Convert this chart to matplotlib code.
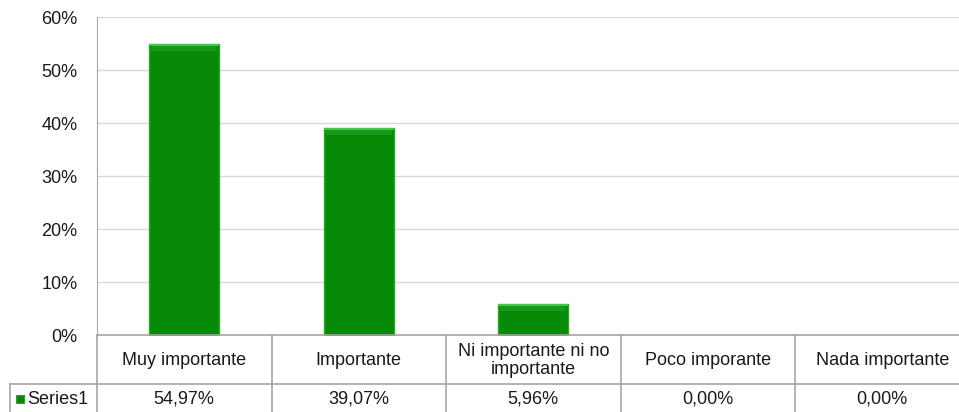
import numpy as np
import matplotlib
matplotlib.use("Agg")
import matplotlib.pyplot as plt

# chart data
categories = ["Muy importante", "Importante", "Ni importante ni no\nimportante",
              "Poco imporante", "Nada importante"]
values = [54.97, 39.07, 5.96, 0.00, 0.00]
series_name = "Series1"
yticks = [0, 10, 20, 30, 40, 50, 60]

W, H = 959, 412
plt.rcParams['font.family'] = ['Liberation Sans', 'DejaVu Sans']
txt_col = '#1a1a1a'
fs = 13

fig = plt.figure(figsize=(W / 100, H / 100), dpi=100)
fig.patch.set_facecolor('white')

# plot area in pixels (the reference is cropped on the right)
left, right = 97, 969.5
bottom, top = 335.5, 17.3
ax = fig.add_axes([left / W, (H - bottom) / H, (right - left) / W, (bottom - top) / H])

x = np.arange(len(values))
vals = np.array(values)
shown = vals > 0
ax.bar(x[shown], vals[shown], width=0.4, color='#078a07', edgecolor='#2aa82a',
       linewidth=1.0, zorder=3)
# bevel on top of each bar
bevel = np.minimum(vals[shown], 1.3)
ax.bar(x[shown], bevel, width=0.38, bottom=vals[shown] - bevel, color='#16991a',
       linewidth=0, zorder=4)
ax.bar(x[shown], 0.35, width=0.4, bottom=vals[shown] - 0.35, color='#48c248',
       linewidth=0, zorder=4)

ax.set_xlim(-0.5, len(values) - 0.5)
ax.set_ylim(0, 60)
ax.set_yticks(yticks)
ax.set_yticklabels(["%d%%" % t for t in yticks], fontsize=fs, color=txt_col)
ax.tick_params(axis='y', length=0, pad=14)
ax.set_xticks([])
ax.grid(axis='y', color='#d9d9d9', linewidth=1, zorder=0)
for s in ['top', 'right', 'bottom']:
    ax.spines[s].set_visible(False)
ax.spines['left'].set_color('#a6a6a6')

# data table below the plot area
tab_left, tab_bottom = 10, 416
row_sep = 383.7
tax = fig.add_axes([tab_left / W, (H - tab_bottom) / H, (right - tab_left) / W,
                    (tab_bottom - bottom) / H])
col_w = (right - left) / len(values)
x0 = -0.5 - (left - tab_left) / col_w
tax.set_xlim(x0, len(values) - 0.5)
tax.set_ylim(tab_bottom, bottom)
tax.axis('off')
lc = '#a6a6a6'
tax.plot([-0.5, len(values) - 0.5], [bottom, bottom], color=lc, lw=1.2, clip_on=False)
tax.plot([x0, len(values) - 0.5], [row_sep, row_sep], color=lc, lw=1.2, clip_on=False)
tax.plot([x0, x0], [row_sep, tab_bottom], color=lc, lw=1.2, clip_on=False)
for i in range(len(values) + 1):
    tax.plot([i - 0.5, i - 0.5], [bottom, tab_bottom], color=lc, lw=1.2, clip_on=False)

for i, (c, v) in enumerate(zip(categories, values)):
    tax.text(i, (bottom + row_sep) / 2 + 1, c, ha='center', va='center', fontsize=fs,
             color=txt_col, linespacing=1.1)
    tax.text(i, 399.5, ("%.2f%%" % v).replace('.', ','), ha='center', va='center',
             fontsize=fs, color=txt_col)

tax.scatter([x0 + 0.06], [399.5], marker='s', s=40, color='#078a07',
            edgecolors='#2aa82a', linewidths=0.8, clip_on=False)
tax.text(x0 + 0.1, 399.5, series_name, ha='left', va='center', fontsize=fs, color=txt_col)

fig.savefig('out.png', dpi=100, facecolor='white')
